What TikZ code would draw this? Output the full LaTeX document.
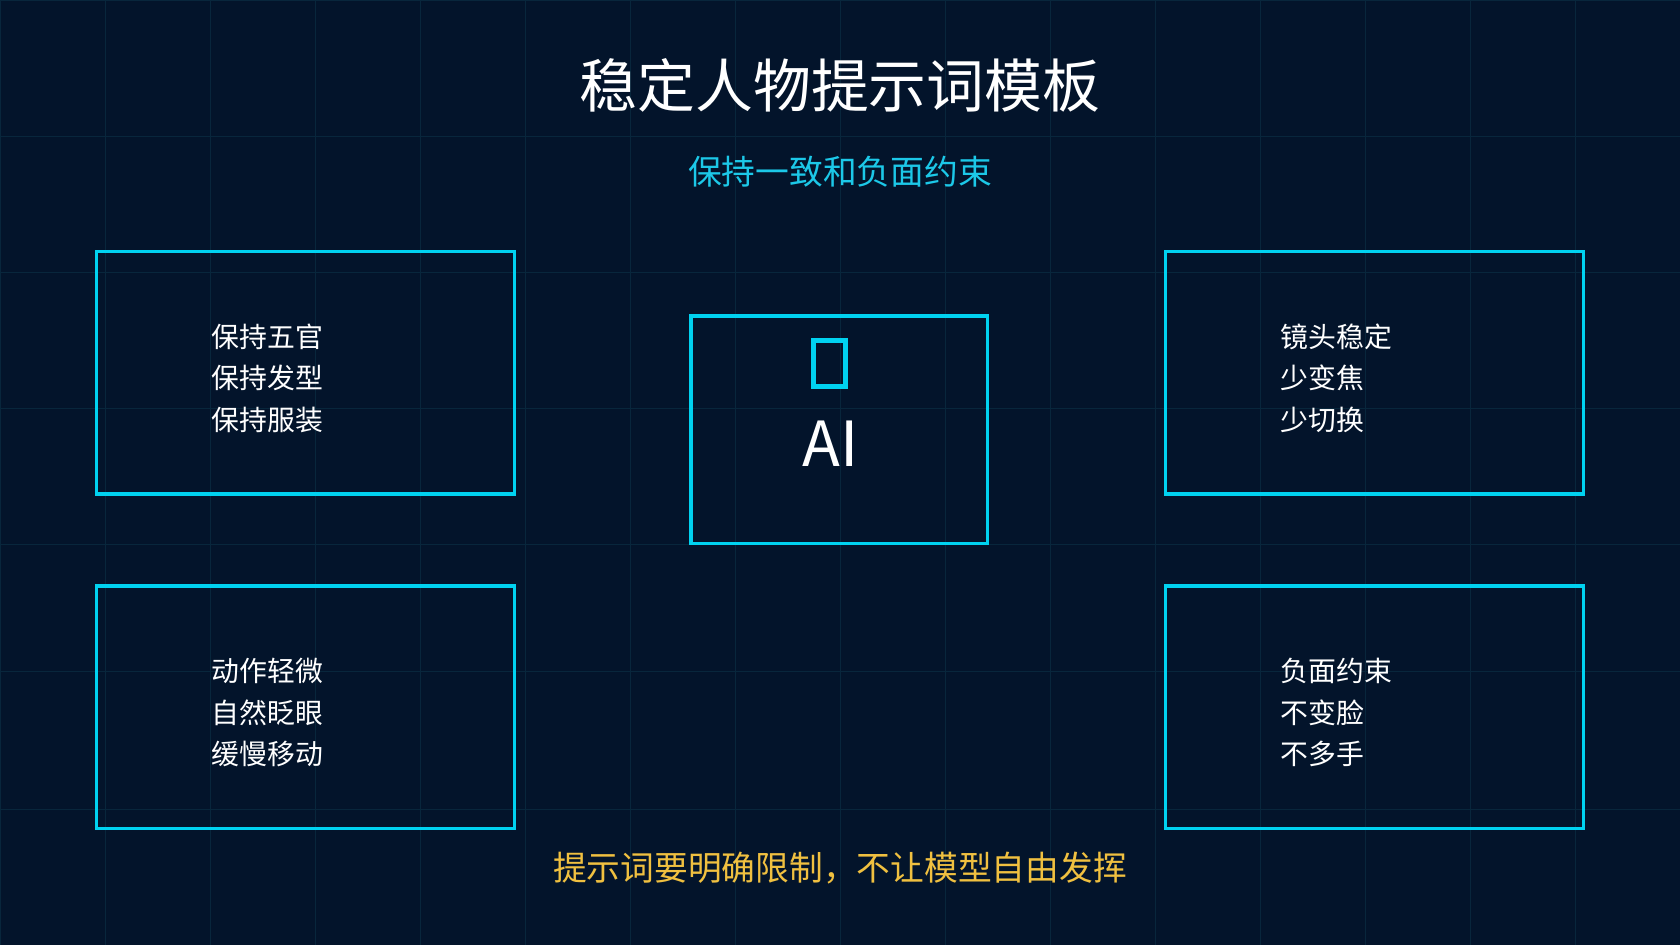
\documentclass[tikz,border=0pt]{standalone}
\usepackage{fontspec}
\setmainfont{Noto Sans CJK SC}
\definecolor{bg}{HTML}{03142B}
\definecolor{gridc}{HTML}{08263C}
\definecolor{cyanb}{HTML}{00D2F0}
\definecolor{subc}{HTML}{1CC8E8}
\definecolor{yel}{HTML}{F0C040}
\tikzset{card/.style={draw=cyanb,line width=3pt},
 items/.style={text=white,font=\fontsize{26}{39}\selectfont,align=left,anchor=west}}
\begin{document}
\begin{tikzpicture}[x=1pt,y=-1pt]
\fill[bg] (0,0) rectangle (1568,882);
\useasboundingbox (0,0) rectangle (1568,882);
\foreach \x in {0,98,...,1568} \draw[gridc,line width=0.6pt] (\x,0) -- (\x,882);
\foreach \y in {0,127,254,381,508,627,755,882} \draw[gridc,line width=0.6pt] (0,\y) -- (1568,\y);
\node[text=white,font=\fontsize{54}{60}\selectfont] (title) at (784,80) {稳定人物提示词模板};
\node[text=subc,font=\fontsize{31.5}{36}\selectfont] (sub) at (784,160) {保持一致和负面约束};
\draw[card] (90,235) rectangle (480,461);
\draw[card] (1088,235) rectangle (1478,461);
\draw[card] (90,547) rectangle (480,773);
\draw[card] (1088,547) rectangle (1478,773);
\draw[card] (645,295) rectangle (922,507);
\draw[cyanb,line width=4.5pt] (759,318) rectangle (789,361);
\node[text=white,font=\fontsize{58}{64}\selectfont] (ai) at (775,414) {AI};
\node[items] (t1) at (194,353) {保持五官\\保持发型\\保持服装};
\node[items] (t2) at (1192,353) {镜头稳定\\少变焦\\少切换};
\node[items] (t3) at (194,665) {动作轻微\\自然眨眼\\缓慢移动};
\node[items] (t4) at (1192,665) {负面约束\\不变脸\\不多手};
\node[text=yel,font=\fontsize{31.5}{36}\selectfont] (foot) at (784,810) {提示词要明确限制，不让模型自由发挥};
\end{tikzpicture}
\end{document}
